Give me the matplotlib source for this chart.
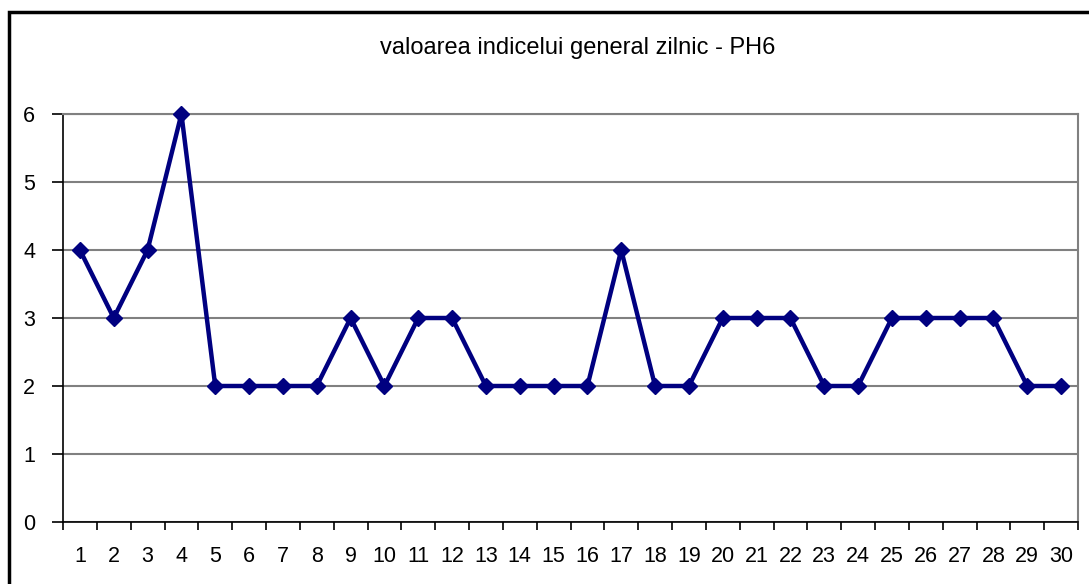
import matplotlib.pyplot as plt
import matplotlib.patches as patches
import numpy as np

plt.rcParams['font.family'] = ['Liberation Sans', 'DejaVu Sans']

days = list(range(1, 31))
values = [4, 3, 4, 6, 2, 2, 2, 2, 3, 2, 3, 3, 2, 2, 2, 2, 4, 2, 2, 3, 3, 3, 2, 2, 3, 3, 3, 3, 2, 2]
title = 'valoarea indicelui general zilnic - PH6'

fig = plt.figure(figsize=(10.89, 5.84), dpi=100)
W, H = 1089, 584
ax = fig.add_axes([63 / W, 1 - 522 / H, (1078 - 63) / W, (522 - 114) / H])

# outer chart frame (runs past right/bottom edge)
fig.patches.append(patches.Rectangle((9 / W, -0.05), 1.1, 1 - 12 / H + 0.05,
                                     transform=fig.transFigure, fill=False,
                                     edgecolor='black', linewidth=2.5))

x = np.arange(len(days))
ax.plot(x, values, color='#000080', linewidth=3.2, marker='D', markersize=8.5,
        markerfacecolor='#000080', markeredgecolor='#000080', zorder=3, clip_on=False)

ax.set_xlim(-0.5, len(days) - 0.5)
ax.set_ylim(0, 6)
ax.set_yticks(range(0, 7))
ax.yaxis.grid(True, color='#808080', linewidth=1.5)
ax.set_axisbelow(True)

ax.set_xticks(np.arange(-0.5, len(days), 1))
ax.set_xticklabels([])
ax.set_xticks(x, minor=True)
ax.set_xticklabels([str(d) for d in days], minor=True)
ax.tick_params(axis='x', which='minor', length=0, pad=17, labelsize=15.5)
ax.tick_params(axis='x', which='major', length=6, width=1.2, direction='out')
ax.tick_params(axis='y', length=8, width=1.2, direction='out', pad=12, labelsize=15.5)

for s in ['top', 'right']:
    ax.spines[s].set_color('#808080')
    ax.spines[s].set_linewidth(1.5)
for s in ['left', 'bottom']:
    ax.spines[s].set_color('black')
    ax.spines[s].set_linewidth(1.2)

fig.text(578 / W, 1 - 48 / H, title, ha='center', va='center', fontsize=17)

fig.savefig('out.png', dpi=100)
